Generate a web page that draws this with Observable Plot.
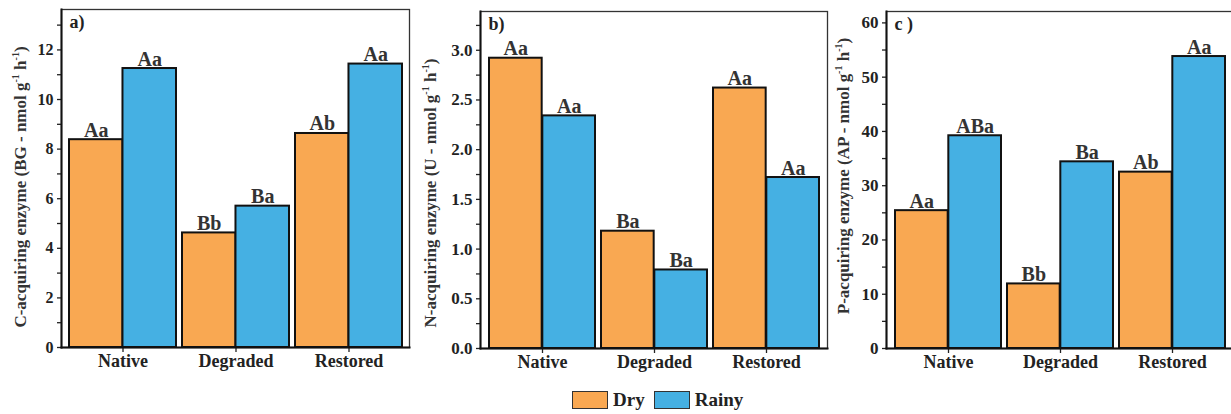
<!DOCTYPE html>
<html>
<head>
<meta charset="utf-8">
<script src="https://cdn.jsdelivr.net/npm/d3@7"></script>
<script src="https://cdn.jsdelivr.net/npm/@observablehq/plot@0.6"></script>
<style>
  html, body { margin: 0; padding: 0; background: #fff; overflow: hidden; }
  #wrap { position: relative; width: 1231px; height: 414px; overflow: hidden; font-family: "Liberation Serif", "Times New Roman", serif; }
  #wrap svg { position: absolute; top: 0; overflow: visible; }
  #legend { position: absolute; top: 391px; left: 572px; display: flex; align-items: center; font-weight: bold; font-size: 19px; color: #222; }
  .sw { width: 34px; height: 16px; border: 1px solid #333; margin-right: 5px; }
  .lt { margin-right: 9px; line-height: 18px; }
</style>
</head>
<body>
<div id="wrap"><div id="legend"></div></div>
<script>
// ---------------- data ----------------
const sites = ["Native", "Degraded", "Restored"];
const seasons = ["Dry", "Rainy"];
const seasonColors = ["#F9A852", "#45B0E3"];

const cDry = [8.38, 4.62, 8.63];
const cRainy = [11.25, 5.70, 11.43];
const cLabDry = ["Aa", "Bb", "Ab"];
const cLabRainy = ["Aa", "Ba", "Aa"];

const nDry = [2.92, 1.18, 2.62];
const nRainy = [2.34, 0.79, 1.72];
const nLabDry = ["Aa", "Ba", "Aa"];
const nLabRainy = ["Aa", "Ba", "Aa"];

const pDry = [25.4, 11.9, 32.5];
const pRainy = [39.2, 34.4, 53.8];
const pLabDry = ["Aa", "Bb", "Ab"];
const pLabRainy = ["ABa", "Ba", "Aa"];

const cTicks = [0, 2, 4, 6, 8, 10, 12];
const cMinor = [1, 3, 5, 7, 9, 11, 13];
const nTicks = [0, 0.5, 1.0, 1.5, 2.0, 2.5, 3.0];
const nMinor = [0.25, 0.75, 1.25, 1.75, 2.25, 2.75, 3.25];
const pTicks = [0, 10, 20, 30, 40, 50, 60];
const pMinor = [5, 15, 25, 35, 45, 55];

function rows(dry, rainy, labDry, labRainy) {
  return sites.flatMap((s, i) => [
    {site: s, season: seasons[0], value: dry[i], label: labDry[i]},
    {site: s, season: seasons[1], value: rainy[i], label: labRainy[i]}
  ]);
}

const FONT = "'Liberation Serif', 'Times New Roman', serif";
const PI = 0.055, PO = 0.065;

function panel(cfg) {
  const data = rows(cfg.dry, cfg.rainy, cfg.labDry, cfg.labRainy);
  const inner = cfg.width - cfg.ml - cfg.mr;
  const step = inner / (sites.length - PI + 2 * PO);
  const bw = step * (1 - PI);
  const dry = data.filter(d => d.season === seasons[0]);
  const rainy = data.filter(d => d.season === seasons[1]);
  const plot = Plot.plot({
    width: cfg.width,
    height: 375,
    marginLeft: cfg.ml,
    marginRight: cfg.mr,
    marginTop: cfg.mt,
    marginBottom: 375 - 348 + (cfg.mt === 9 ? 1 : 0),
    style: {fontFamily: FONT, fontWeight: "bold", color: "#222", background: "transparent", overflow: "visible"},
    x: {domain: sites, paddingInner: PI, paddingOuter: PO, label: null},
    y: {domain: [0, cfg.ymax], label: null},
    color: {domain: seasons, range: seasonColors},
    marks: [
      Plot.frame({stroke: "#333", strokeWidth: 1.3}),
      Plot.barY(dry, {x: "site", y: "value", fill: "season", stroke: "#111", strokeWidth: 2, insetRight: bw / 2}),
      Plot.barY(rainy, {x: "site", y: "value", fill: "season", stroke: "#111", strokeWidth: 2, insetLeft: bw / 2}),
      Plot.text(dry, {x: "site", y: "value", text: "label", dx: -bw / 4, lineAnchor: "bottom", dy: -3, fontSize: 20, fill: "#333", fontWeight: "bold"}),
      Plot.text(rainy, {x: "site", y: "value", text: "label", dx: bw / 4, lineAnchor: "bottom", dy: -3, fontSize: 20, fill: "#333", fontWeight: "bold"}),
      Plot.axisY({ticks: cfg.ticks, tickFormat: cfg.fmt, tickSize: 4, tickPadding: 4, fontSize: cfg.tickFont, label: null, strokeWidth: 1.3}),
      Plot.axisY({ticks: cfg.minor, tickFormat: () => "", tickSize: 4, label: null, strokeWidth: 1.3}),
      Plot.axisX({tickSize: 5, tickPadding: 2, fontSize: 18, label: null, strokeWidth: 1.3}),
      Plot.frame({anchor: "left", stroke: "#111", strokeWidth: 2}),
      Plot.frame({anchor: "bottom", stroke: "#111", strokeWidth: 2}),
      Plot.text([cfg.letter], {frameAnchor: "top-left", dx: 8, dy: 6, fontSize: 18, lineAnchor: "top", fill: "#222", fontWeight: "bold"})
    ]
  });
  plot.style.left = cfg.left + "px";
  // rotated y-axis title with superscripts
  const t = d3.select(plot).append("text")
    .attr("transform", `translate(${cfg.tx},${cfg.ty}) rotate(-90)`)
    .attr("text-anchor", "middle")
    .attr("font-family", FONT)
    .attr("font-weight", "bold")
    .attr("font-size", 17)
    .attr("fill", "#333");
  t.append("tspan").text(cfg.title + " nmol g");
  t.append("tspan").attr("dy", -7).attr("font-size", 10).text("-1");
  t.append("tspan").attr("dy", 7).text(" h");
  t.append("tspan").attr("dy", -7).attr("font-size", 10).text("-1");
  t.append("tspan").attr("dy", 7).text(")");
  document.getElementById("wrap").appendChild(plot);
}

panel({left: 0, width: 410, ml: 61, mr: 1, mt: 9, ymax: 13.63, dry: cDry, rainy: cRainy, labDry: cLabDry, labRainy: cLabRainy,
  ticks: cTicks, minor: cMinor, fmt: d3.format("d"), tickFont: 16, letter: "a)",
  title: "C-acquiring enzyme (BG -", tx: 26, ty: 187});
panel({left: 410, width: 418, ml: 70, mr: 1, mt: 11, ymax: 3.39, dry: nDry, rainy: nRainy, labDry: nLabDry, labRainy: nLabRainy,
  ticks: nTicks, minor: nMinor, fmt: d3.format(".1f"), tickFont: 17, letter: "b)",
  title: "N-acquiring enzyme (U -", tx: 26, ty: 193});
panel({left: 827, width: 408, ml: 59, mr: 2, mt: 11, ymax: 62.1, dry: pDry, rainy: pRainy, labDry: pLabDry, labRainy: pLabRainy,
  ticks: pTicks, minor: pMinor, fmt: d3.format("d"), tickFont: 17, letter: "c )",
  title: "P-acquiring enzyme (AP -", tx: 22, ty: 176});

// legend
const lg = document.getElementById("legend");
seasons.forEach((s, i) => {
  const sw = document.createElement("div");
  sw.className = "sw";
  sw.style.background = seasonColors[i];
  const lt = document.createElement("span");
  lt.className = "lt";
  lt.textContent = s;
  lg.appendChild(sw);
  lg.appendChild(lt);
});
</script>
</body>
</html>
